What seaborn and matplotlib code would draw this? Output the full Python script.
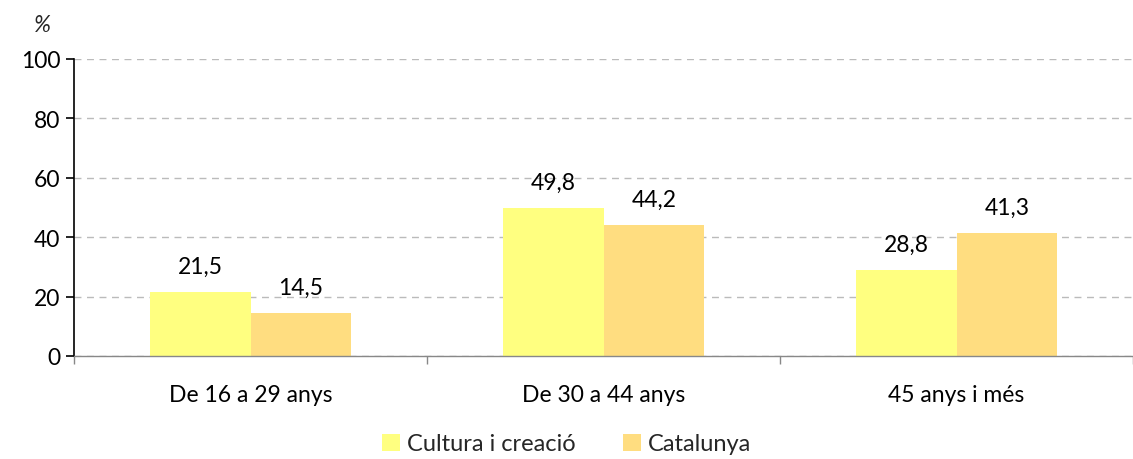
import matplotlib
matplotlib.use("Agg")
import matplotlib.pyplot as plt
import seaborn as sns
import pandas as pd
from matplotlib.patches import Patch

categories = ["De 16 a 29 anys", "De 30 a 44 anys", "45 anys i més"]
series_names = ["Cultura i creació", "Catalunya"]
cultura = [21.5, 49.8, 28.8]
catalunya = [14.5, 44.2, 41.3]
colors = ["#FFFF80", "#FFDD80"]
yticks = [0, 20, 40, 60, 80, 100]

df = pd.DataFrame({
    "cat": categories * 2,
    "serie": [series_names[0]] * 3 + [series_names[1]] * 3,
    "val": cultura + catalunya,
})

sns.set_theme(style="white")
plt.rcParams["font.family"] = ["Lato", "DejaVu Sans"]
FS = 16.5

fig = plt.figure(figsize=(11.33, 4.6), dpi=100)
ax = fig.add_axes([74/1133, 1 - 357/460, (1133-74)/1133, (357-60)/460])

sns.barplot(data=df, x="cat", y="val", hue="serie", palette=colors,
            width=0.57, saturation=1, ax=ax, legend=False, gap=0, linewidth=0)

for cont in ax.containers:
    labels = [f"{v:.1f}".replace(".", ",") for v in cont.datavalues]
    ax.bar_label(cont, labels=labels, padding=11, fontsize=FS, color="black")

ax.set_xlim(-0.5, 2.5)
ax.set_ylim(0, 100)
ax.set_yticks(yticks)
ax.set_yticklabels([str(t) for t in yticks], fontsize=FS, color="black")
ax.yaxis.grid(True, linestyle=(0, (5, 4)), color="#BBBBBB", linewidth=1)
ax.set_axisbelow(True)
ax.set_xlabel("")
ax.set_ylabel("")
ax.set_xticks(range(3))
ax.set_xticklabels(categories, fontsize=FS, color="black")
ax.tick_params(axis="x", which="major", length=0, pad=20, bottom=True)
ax.set_xticks([-0.5, 0.5, 1.5, 2.5], minor=True)
ax.tick_params(axis="x", which="minor", length=6, color="#888888", width=1,
               direction="out", bottom=True)
ax.tick_params(axis="y", length=6, width=1.2, color="black", direction="out", left=True, pad=4)

for s in ["top", "right"]:
    ax.spines[s].set_visible(False)
ax.spines["left"].set_color("black")
ax.spines["left"].set_linewidth(1.2)
ax.spines["bottom"].set_color("#888888")
ax.spines["bottom"].set_linewidth(1)

fig.text(42/1133, 1 - 25/460, "%", fontsize=FS, style="italic", ha="center", va="center")

handles = [Patch(facecolor=c, edgecolor="none") for c in colors]
fig.legend(handles, series_names, loc="center", bbox_to_anchor=(0.5, 1 - 445/460),
           ncol=2, frameon=False, fontsize=17, handlelength=0.75, handleheight=0.75,
           handletextpad=0.3, columnspacing=2.0)

fig.savefig("out.png", dpi=100)
